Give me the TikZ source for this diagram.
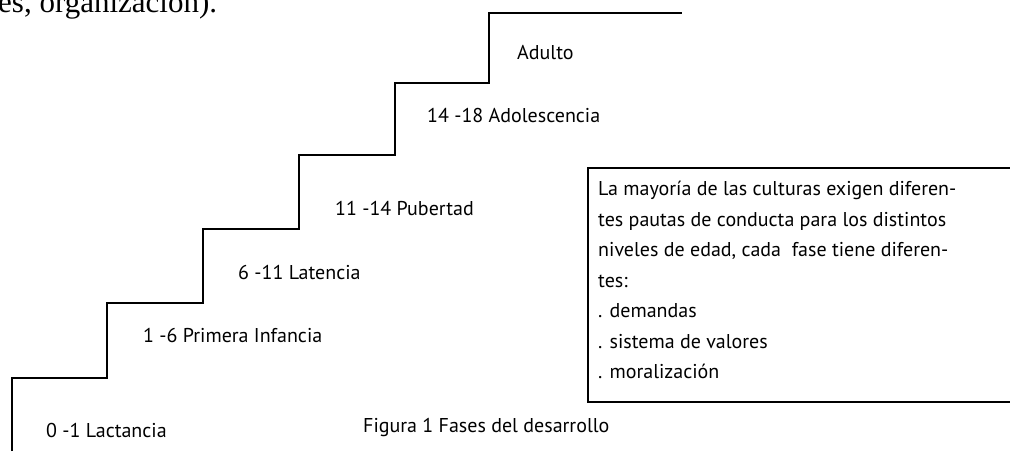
\documentclass[tikz,border=0pt]{standalone}
\usepackage{fontspec}
\setmainfont{PT Sans}
\newfontfamily\bodyserif{Liberation Serif}
\tikzset{
  stair/.style={line width=2pt, line join=miter},
  lbl/.style={anchor=west, inner sep=0pt, font=\fontsize{20}{22}\selectfont},
  infobox/.style={draw, line width=2.4pt},
}
\begin{document}
\begin{tikzpicture}[x=1pt,y=-1pt]
\useasboundingbox (0,0) rectangle (1010,451);
\clip (0,0) rectangle (1010,451);
\node[anchor=base west, inner sep=0pt, font=\bodyserif\fontsize{31}{33}\selectfont] (body) at (-2,12) {es, organización).};
\draw[stair] (12,451) -- (12,378) -- (107,378) -- (107,303) -- (203,303) -- (203,229) -- (299,229) -- (299,155) -- (395,155) -- (395,83) -- (489,83) -- (489,13) -- (682,13);
\node[lbl] (l0) at (46,430) {0 -1 Lactancia};
\node[lbl] (l1) at (143,335) {1 -6 Primera Infancia};
\node[lbl] (l2) at (238,272) {6 -11 Latencia};
\node[lbl] (l3) at (335,208) {11 -14 Pubertad};
\node[lbl] (l4) at (427,115) {14 -18 Adolescencia};
\node[lbl] (l5) at (517,53) {Adulto};
\node[lbl] (cap) at (363,427) {Figura 1 Fases del desarrollo};
\draw[infobox] (588,168) rectangle (1016,402);
\node[anchor=north west, inner sep=0pt, align=left, font=\fontsize{20}{30.5}\selectfont] (boxtext) at (598,181) {La mayoría de las culturas exigen diferen-\\tes pautas de conducta para los distintos\\niveles de edad, cada\ \ fase tiene diferen-\\tes:\\. demandas\\. sistema de valores\\. moralización};
\end{tikzpicture}
\end{document}
